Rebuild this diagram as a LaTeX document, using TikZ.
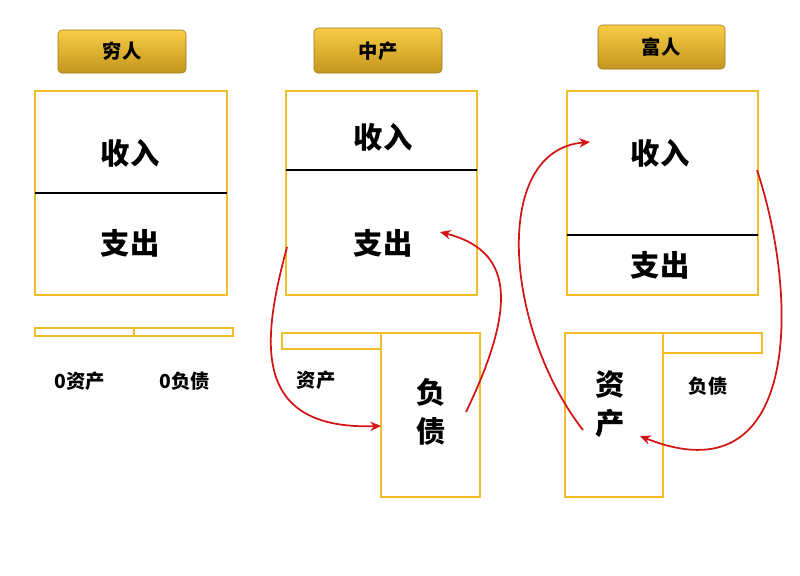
\documentclass[tikz,border=0pt]{standalone}
\usepackage{fontspec}
\setmainfont{Noto Sans CJK SC}
\usetikzlibrary{arrows.meta,positioning}
\definecolor{mygold}{RGB}{240,190,40}
\definecolor{mygoldtop}{RGB}{248,204,70}
\definecolor{mygoldbot}{RGB}{196,150,30}
\definecolor{myred}{RGB}{210,20,20}
\tikzset{
  header/.style={rounded corners=3pt,top color=mygoldtop,bottom color=mygoldbot,draw=mygoldbot!80!black,line width=0.4pt},
  panel/.style={draw=mygold,line width=1.4pt},
  divider/.style={line width=1.2pt},
  big/.style={font=\bfseries\fontsize{22}{26}\selectfont},
  small/.style={font=\bfseries\fontsize{14.5}{17}\selectfont},
  flow/.style={draw=myred,line width=1.3pt,-{Stealth[length=8pt,width=7pt]}}
}
\begin{document}
\begin{tikzpicture}[x=0.75pt,y=-0.75pt]
\useasboundingbox (0,0) rectangle (800,575);
% poor
\path[header] (58,30) rectangle (186,73);
\node[small] (tpoor) at (122,51) {穷人};
\draw[panel] (35,91) rectangle (227,295);
\draw[divider] (35,193) -- (227,193);
\node[big] (ipoor) at (130,153) {收入};
\node[big] (epoor) at (130,243) {支出};
\draw[panel,line width=1pt] (35,328) rectangle (233,336);
\draw[panel,line width=1pt] (134,328) -- (134,336);
\node[small] (apoor) at (80,381) {0资产};
\node[small] (lpoor) at (185,381) {0负债};
% middle
\path[header] (314,28) rectangle (442,73);
\node[small] (tmid) at (378,51) {中产};
\draw[panel] (286,91) rectangle (477,295);
\draw[divider] (286,170) -- (477,170);
\node[big] (imid) at (383,137) {收入};
\node[big] (emid) at (383,243) {支出};
\draw[panel] (282,333) rectangle (381,349);
\draw[panel] (381,333) rectangle (480,497);
\node[small] (amid) at (316,380) {资产};
\node[big,align=center] (lmid) at (431,412) {负\\[3pt]债};
\coordinate (m1) at (287,247);
\coordinate (m2) at (381,426);
\coordinate (m3) at (466,412);
\coordinate (m4) at (440,232);
\draw[flow] (m1) .. controls (262,340) and (250,430) .. (m2);
\draw[flow] (m3) .. controls (520,300) and (510,250) .. (m4);
% rich
\path[header] (598,25) rectangle (725,69);
\node[small] (trich) at (661,47) {富人};
\draw[panel] (567,91) rectangle (758,295);
\draw[divider] (567,235) -- (758,235);
\node[big] (irich) at (660,153) {收入};
\node[big] (erich) at (660,265) {支出};
\draw[panel] (565,333) rectangle (663,497);
\draw[panel] (663,333) rectangle (762,353);
\node[big,align=center] (arich) at (610,404) {资\\[3pt]产};
\node[small] (lrich) at (708,386) {负债};
\coordinate (r1) at (583,430);
\coordinate (r2) at (590,142);
\coordinate (r3) at (757,170);
\coordinate (r4) at (640,436);
\draw[flow] (r1) .. controls (505,330) and (490,150) .. (r2);
\draw[flow] (r3) .. controls (800,300) and (800,500) .. (r4);
\end{tikzpicture}
\end{document}
